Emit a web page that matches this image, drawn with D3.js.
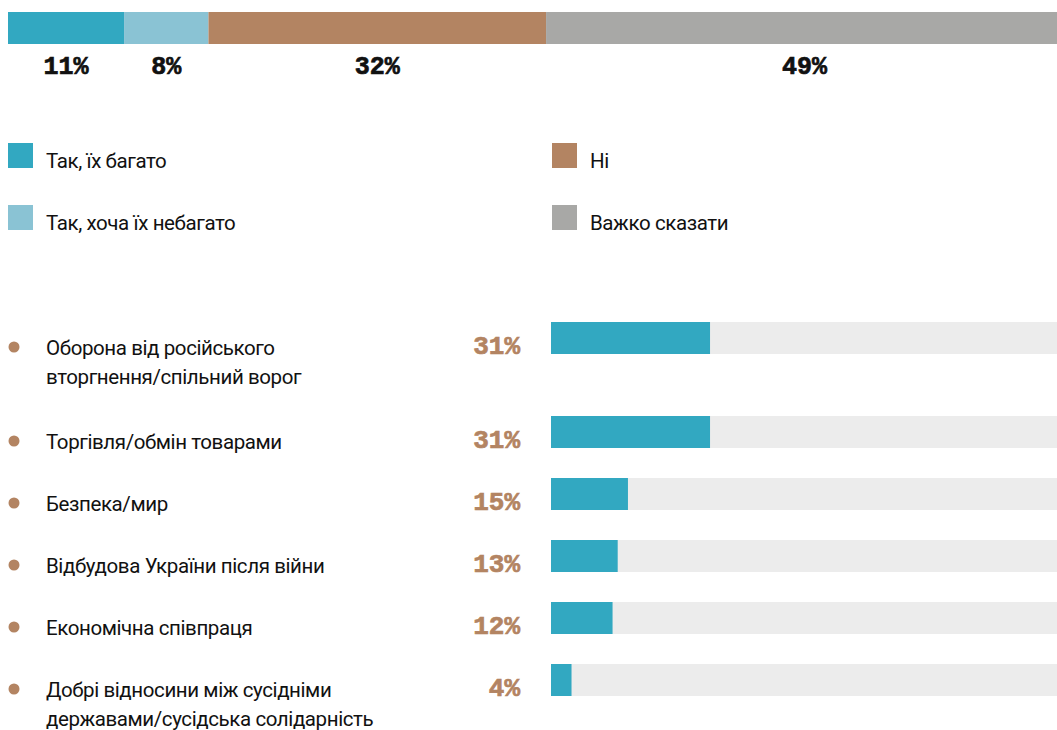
<!DOCTYPE html>
<html>
<head>
<meta charset="utf-8">
<script src="https://cdn.jsdelivr.net/npm/d3@7"></script>
<style>
  html, body { margin: 0; padding: 0; background: #fff; }
  svg { display: block; }
  .lbl { font-family: Roboto, "DejaVu Sans", sans-serif; font-size: 20.5px; letter-spacing: -0.4px; fill: #111; }
  .pct { font-family: "Liberation Mono", "DejaVu Sans Mono", monospace; font-weight: bold; stroke-width: 0.7px; }
</style>
</head>
<body>
<svg id="chart" width="1057" height="730"></svg>
<script>
// Overall answer split
const shareKeys   = ["Так, їх багато", "Так, хоча їх небагато", "Ні", "Важко сказати"];
const shareValues = [11, 8, 32, 49];
const shareColors = ["#32a8c1", "#8ac3d4", "#b38462", "#a8a8a6"];

// Reasons named by respondents
const reasonLabels = [
  ["Оборона від російського", "вторгнення/спільний ворог"],
  ["Торгівля/обмін товарами"],
  ["Безпека/мир"],
  ["Відбудова України після війни"],
  ["Економічна співпраця"],
  ["Добрі відносини між сусідніми", "державами/сусідська солідарність"]
];
const reasonValues = [31, 31, 15, 13, 12, 4];
const reasonRowTops = [322, 416, 478, 540, 602, 664];

const svg = d3.select("#chart");

// ---- stacked share bar (runs slightly past the right edge) ----
const xShare = d3.scaleLinear().domain([0, 100]).range([8, 1063]);
let acc = 0;
const stack = shareValues.map((v, i) => {
  const s = { key: shareKeys[i], value: v, x0: acc, x1: acc + v, color: shareColors[i] };
  acc += v;
  return s;
});

svg.append("g").selectAll("rect").data(stack).join("rect")
  .attr("x", d => xShare(d.x0))
  .attr("y", 12)
  .attr("width", d => xShare(d.x1) - xShare(d.x0))
  .attr("height", 32)
  .attr("fill", d => d.color);

svg.append("g").selectAll("text").data(stack).join("text")
  .attr("class", "pct")
  .attr("x", d => (xShare(d.x0) + xShare(d.x1)) / 2)
  .attr("y", 74)
  .attr("text-anchor", "middle")
  .attr("font-size", 25)
  .attr("fill", "#111")
  .attr("stroke", "#111")
  .text(d => d.value + "%");

// ---- legend ----
const legendPos = [[8, 143], [8, 205], [552, 143], [552, 205]];
const legend = svg.append("g").selectAll("g").data(stack).join("g")
  .attr("transform", (d, i) => `translate(${legendPos[i][0]},${legendPos[i][1]})`);
legend.append("rect").attr("width", 25).attr("height", 25).attr("fill", d => d.color);
legend.append("text").attr("class", "lbl").attr("x", 38).attr("y", 25).text(d => d.key);

// ---- reasons bars ----
const xReason = d3.scaleLinear().domain([0, 100]).range([551, 1064]);
const rows = svg.append("g").selectAll("g").data(reasonValues.map((v, i) => ({
  value: v, lines: reasonLabels[i], top: reasonRowTops[i]
}))).join("g").attr("transform", d => `translate(0,${d.top})`);

rows.append("rect")
  .attr("x", xReason(0)).attr("y", 0)
  .attr("width", xReason(100) - xReason(0)).attr("height", 32)
  .attr("fill", "#ececec");
rows.append("rect")
  .attr("x", xReason(0)).attr("y", 0)
  .attr("width", d => xReason(d.value) - xReason(0)).attr("height", 32)
  .attr("fill", shareColors[0]);

rows.append("circle").attr("cx", 14).attr("cy", 25).attr("r", 5.5).attr("fill", "#b38462");

rows.append("text").attr("class", "lbl")
  .attr("x", 46).attr("y", 33)
  .selectAll("tspan").data(d => d.lines).join("tspan")
  .attr("x", 46).attr("dy", (d, i) => i === 0 ? 0 : 29)
  .text(d => d);

rows.append("text").attr("class", "pct")
  .attr("x", 520).attr("y", 32)
  .attr("text-anchor", "end")
  .attr("font-size", 26)
  .attr("fill", "#b38462")
  .attr("stroke", "#b38462")
  .text(d => d.value + "%");
</script>
</body>
</html>
